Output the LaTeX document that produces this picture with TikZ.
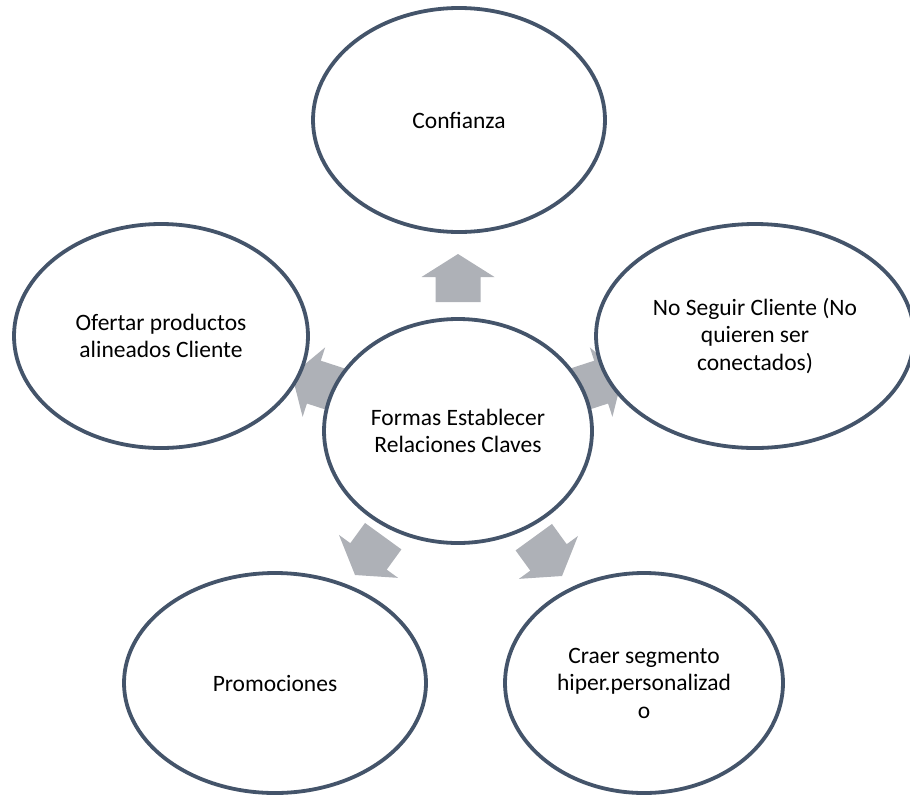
\documentclass[tikz,border=0pt]{standalone}
\usepackage{fontspec}
\setmainfont{Carlito}
\usetikzlibrary{shapes.geometric}
\definecolor{outlinec}{RGB}{68,84,106}
\definecolor{arrowc}{RGB}{174,177,183}
\newcommand\blockarr[3]{%
  \fill[arrowfill, shift={(#1,#2)}, rotate=#3]
    (0,0) -- (-23,36.5) -- (-23,22.5) -- (-48,22.5) -- (-48,-22.5)
    -- (-23,-22.5) -- (-23,-36.5) -- cycle;}
\tikzset{
  bubble/.style={ellipse, draw=outlinec, line width=3.8pt, fill=white,
    inner sep=0pt, align=center, text=black,
    font=\fontsize{23.5}{27.5}\selectfont},
  arrowfill/.style={fill=arrowc}
}
\begin{document}
\begin{tikzpicture}[x=1pt,y=-1pt]
\useasboundingbox (0,0) rectangle (910,796);
% block arrows (drawn first, partly hidden by the ellipses)
\blockarr{458}{254}{90}
\blockarr{623}{375}{18}
\blockarr{562}{576}{-54}
\blockarr{355}{575}{-126}
\blockarr{292}{375}{162}
% ellipses
\node[bubble, minimum width=292pt, minimum height=224pt] (conf) at (459,120) {Confianza};
\node[bubble, minimum width=294pt, minimum height=224pt] (ofer) at (161,336) {Ofertar productos\\alineados Cliente};
\node[bubble, minimum width=318pt, minimum height=224pt] (noseg) at (755,336) {No Seguir Cliente (No\\quieren ser\\conectados)};
\node[bubble, minimum width=302pt, minimum height=220pt] (promo) at (275,683) {Promociones};
\node[bubble, minimum width=278pt, minimum height=220pt] (craer) at (644,683) {Craer segmento\\hiper.personalizad\\o};
\node[bubble, minimum width=268pt, minimum height=224pt] (formas) at (458,431) {Formas Establecer\\Relaciones Claves};
\end{tikzpicture}
\end{document}
